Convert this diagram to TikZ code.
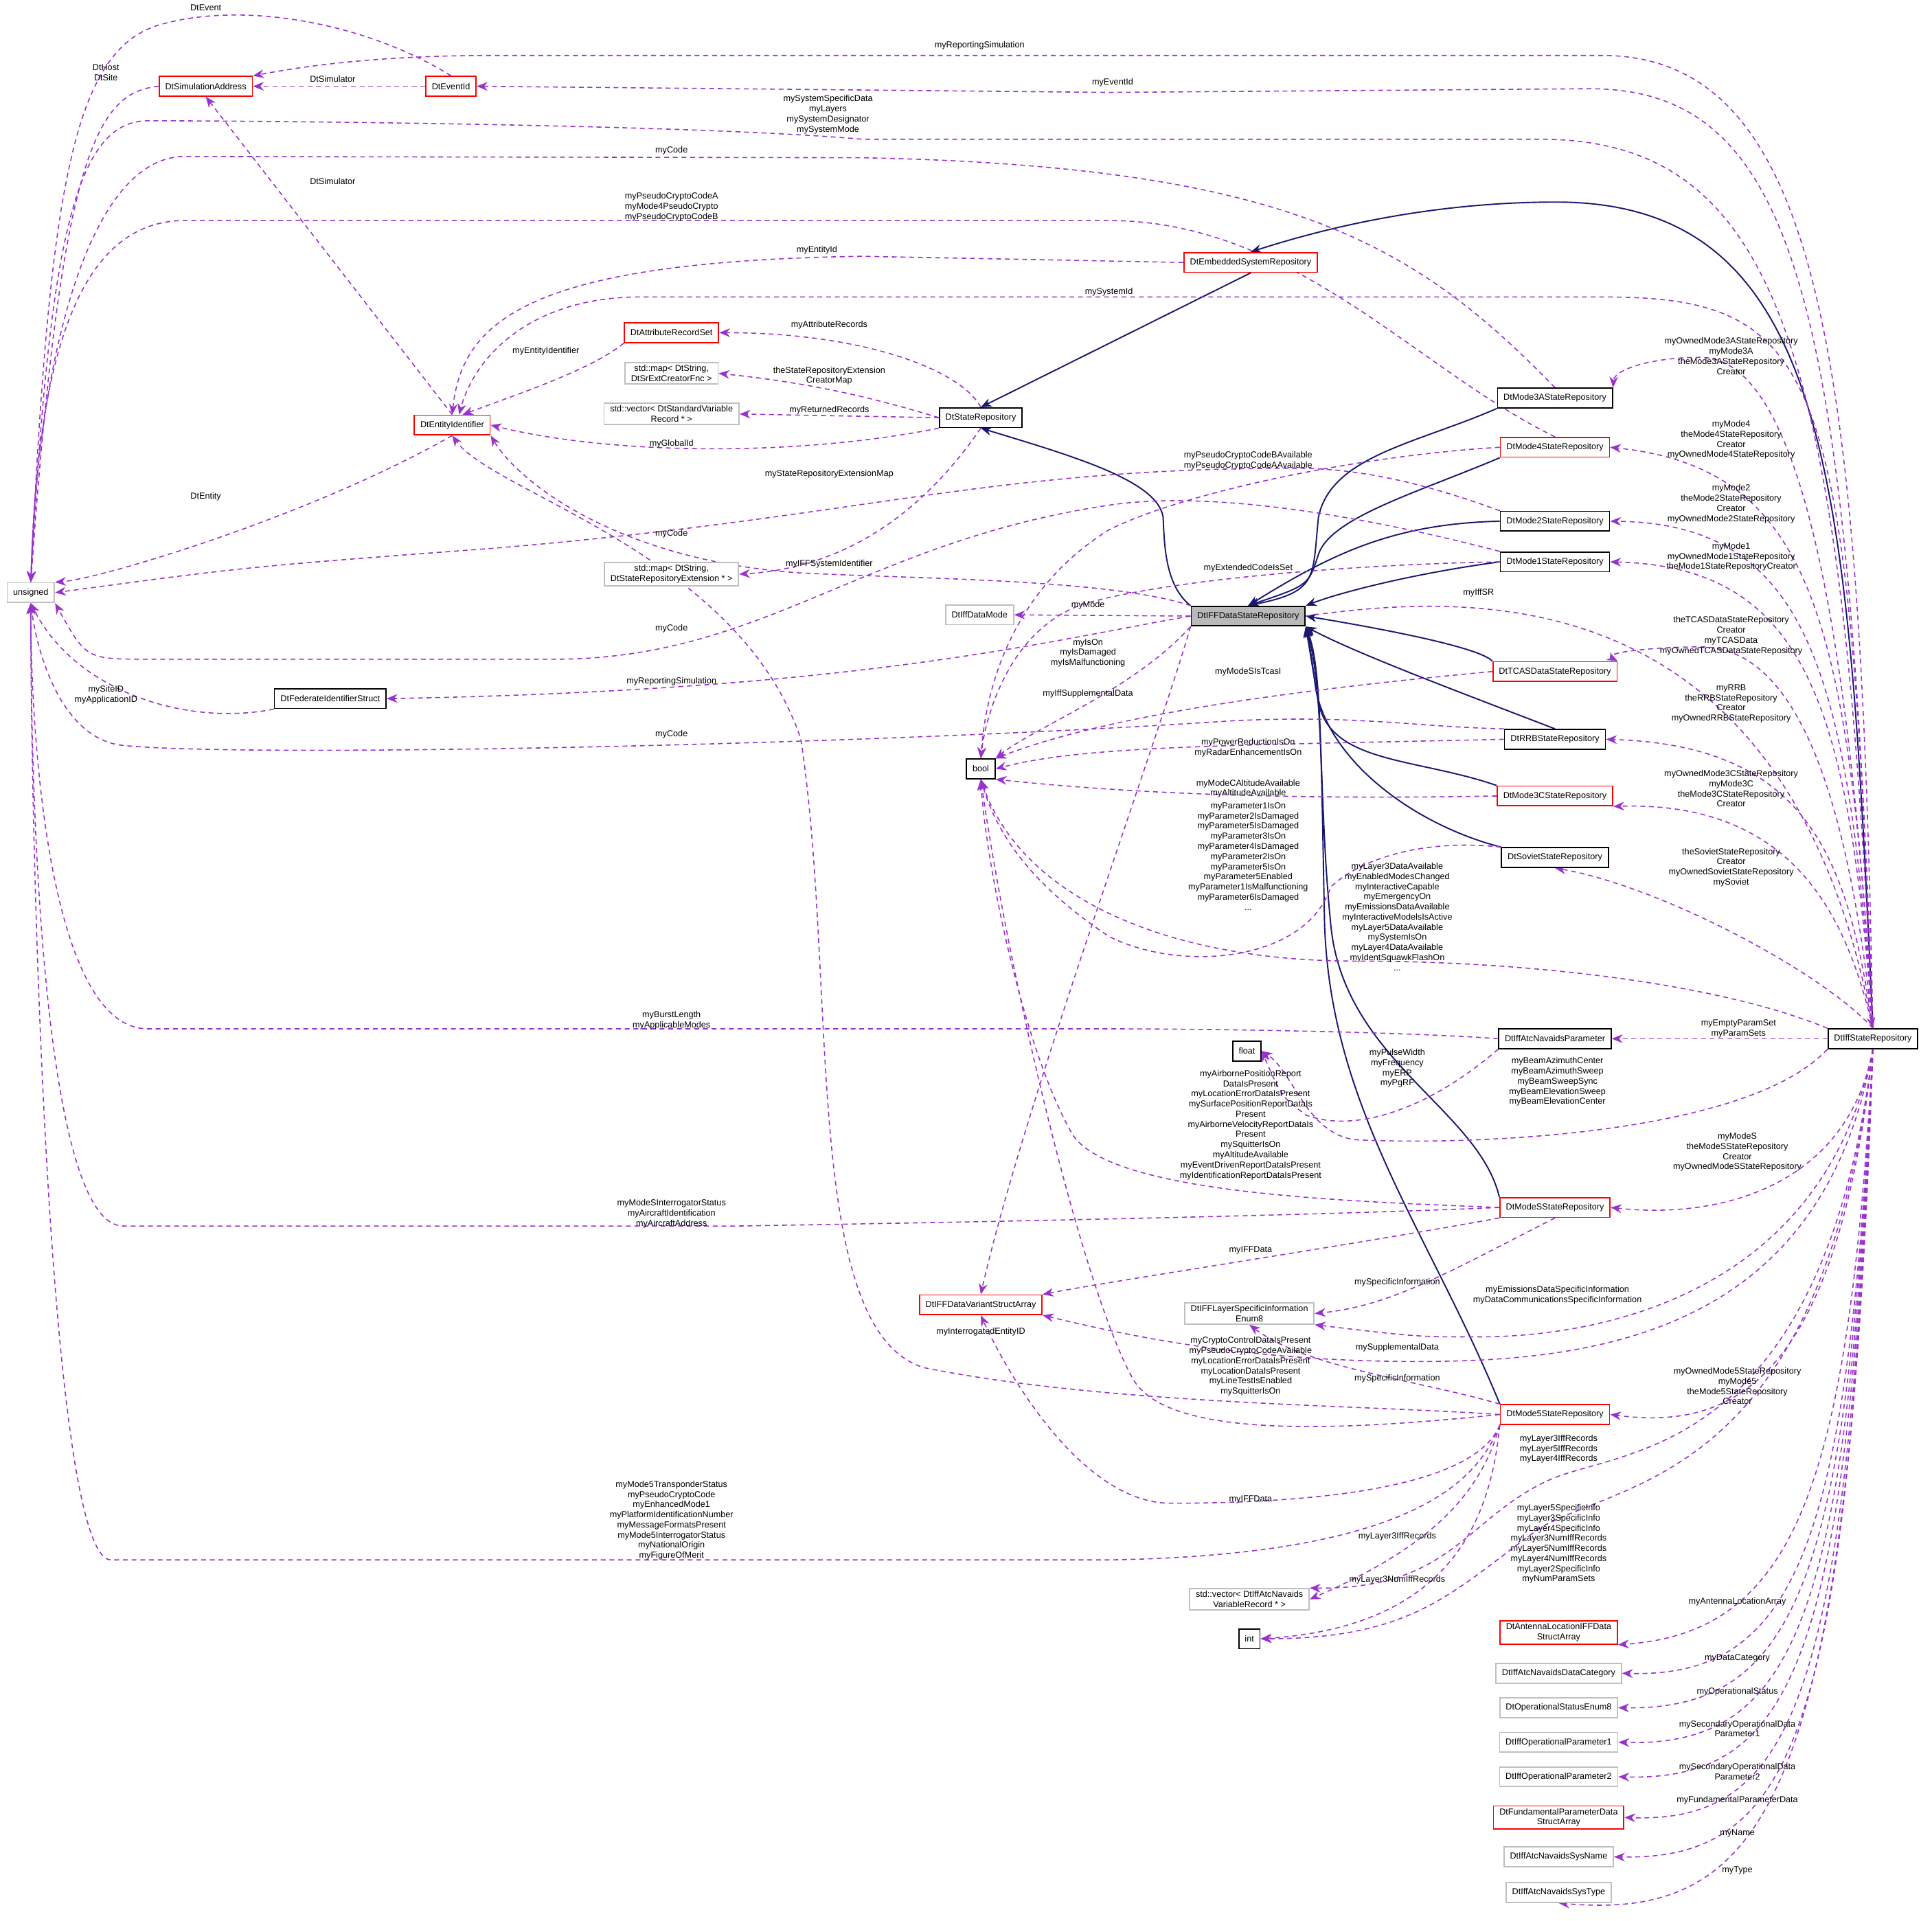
\documentclass[tikz,border=0pt]{standalone}
\usepackage{fontspec}
\setmainfont{Liberation Sans}
\usetikzlibrary{arrows.meta,backgrounds}
\newcommand\ft{\fontsize{3.6}{4.2}\selectfont}
\definecolor{dep}{RGB}{153,50,204}
\definecolor{inh}{RGB}{25,25,112}
\definecolor{rb}{RGB}{255,0,0}
\definecolor{gb}{RGB}{191,191,191}
\begin{document}
\begin{tikzpicture}[x=0.01794cm,y=-0.01794cm,
  box/.style={draw,line width=0.5pt,font=\ft,minimum height=0.287cm,inner xsep=2.5pt,inner ysep=1pt,align=center,fill=white},
  bb/.style={box,draw=black},
  rbx/.style={box,draw=rb},
  gbx/.style={box,draw=gb},
  lbl/.style={font=\ft,align=center,inner sep=0pt},
  d/.style={draw=dep,line width=0.45pt,dash pattern=on 2pt off 1.6pt,-{Stealth[length=4.5pt,width=3.6pt,fill=dep]}},
  h/.style={draw=inh,line width=0.55pt,-{Stealth[length=4.5pt,width=3.6pt,fill=inh]}}]
\useasboundingbox (0,0) rectangle (1568,1559);
% nodes
\node[gbx] (uns) at (25,481) {unsigned};
\node[rbx] (simaddr) at (167,70) {DtSimulationAddress};
\node[rbx] (eventid) at (366,70) {DtEventId};
\node[rbx] (embedded) at (1015,213) {DtEmbeddedSystemRepository};
\node[rbx] (attr) at (545,270) {DtAttributeRecordSet};
\node[gbx] (map1) at (545,303) {std::map\textless{} DtString,\\DtSrExtCreatorFnc \textgreater};
\node[gbx] (vec1) at (545,336) {std::vector\textless{} DtStandardVariable\\Record * \textgreater};
\node[rbx] (entid) at (367,345) {DtEntityIdentifier};
\node[bb] (staterep) at (796,339) {DtStateRepository};
\node[gbx] (map2) at (545,466) {std::map\textless{} DtString,\\DtStateRepositoryExtension * \textgreater};
\node[gbx] (iffmode) at (795,499) {DtIffDataMode};
\node[box,fill=gray!55] (iffdata) at (1013,500) {DtIFFDataStateRepository};
\node[bb] (m3a) at (1262,323) {DtMode3AStateRepository};
\node[rbx] (m4) at (1262,363) {DtMode4StateRepository};
\node[bb] (m2) at (1262,423) {DtMode2StateRepository};
\node[bb] (m1) at (1262,456) {DtMode1StateRepository};
\node[rbx] (tcas) at (1262,545) {DtTCASDataStateRepository};
\node[bb] (rrb) at (1262,600) {DtRRBStateRepository};
\node[rbx] (m3c) at (1262,646) {DtMode3CStateRepository};
\node[bb] (soviet) at (1262,696) {DtSovietStateRepository};
\node[bb] (navpar) at (1262,843) {DtIffAtcNavaidsParameter};
\node[rbx] (modes) at (1262,980) {DtModeSStateRepository};
\node[rbx] (mode5) at (1262,1148) {DtMode5StateRepository};
\node[bb] (iffsr) at (1520,843) {DtIffStateRepository};
\node[bb] (fed) at (268,567) {DtFederateIdentifierStruct};
\node[bb] (bool) at (796,624) {bool};
\node[bb] (float) at (1012,853) {float};
\node[rbx] (variant) at (796,1059) {DtIFFDataVariantStructArray};
\node[gbx] (layer) at (1014,1066) {DtIFFLayerSpecificInformation\\Enum8};
\node[gbx] (vec2) at (1014,1298) {std::vector\textless{} DtIffAtcNavaids\\VariableRecord * \textgreater};
\node[bb] (int) at (1014,1330) {int};
\node[rbx] (antenna) at (1265,1325) {DtAntennaLocationIFFData\\StructArray};
\node[gbx] (datacat) at (1265,1358) {DtIffAtcNavaidsDataCategory};
\node[gbx] (opstat) at (1265,1386) {DtOperationalStatusEnum8};
\node[gbx] (op1) at (1265,1414) {DtIffOperationalParameter1};
\node[gbx] (op2) at (1265,1442) {DtIffOperationalParameter2};
\node[rbx] (fund) at (1265,1475) {DtFundamentalParameterData\\StructArray};
\node[gbx] (sysname) at (1265,1507) {DtIffAtcNavaidsSysName};
\node[gbx] (systype) at (1265,1536) {DtIffAtcNavaidsSysType};
\begin{scope}[on background layer]
% inheritance
\draw[h] (iffsr.north) .. controls (1500,400) and (1490,164) .. (1263,164) .. controls (1150,164) and (1060,190) .. (embedded.north);
\draw[h] (embedded.south) -- (staterep.north);
\draw[h] (iffdata.north west) .. controls (945,475) and (945,440) .. (944,420) .. controls (940,390) and (870,370) .. (staterep.south);
\draw[h] (m3a.south west) .. controls (1150,360) and (1080,370) .. (1070,420) .. controls (1065,470) and (1070,480) .. (iffdata.north);
\draw[h] (m4.south west) .. controls (1150,400) and (1080,420) .. (1070,450) .. controls (1062,475) .. (iffdata.north);
\draw[h] (m2.west) .. controls (1130,425) and (1080,450) .. (iffdata.north);
\draw[h] (m1.west) .. controls (1150,465) and (1090,480) .. (iffdata.north east);
\draw[h] (tcas.north west) .. controls (1200,525) and (1120,510) .. (iffdata.east);
\draw[h] (rrb.north) .. controls (1180,560) and (1100,530) .. (iffdata.south east);
\draw[h] (m3c.north west) .. controls (1150,615) and (1080,620) .. (1070,570) .. controls (1065,540) .. (iffdata.south east);
\draw[h] (soviet.north west) .. controls (1150,670) and (1080,620) .. (1068,560) .. controls (1064,530) .. (iffdata.south east);
\draw[h] (modes.north west) .. controls (1200,900) and (1090,860) .. (1080,750) .. controls (1070,650) and (1075,560) .. (iffdata.south east);
\draw[h] (mode5.north west) .. controls (1160,1000) and (1080,900) .. (1075,750) .. controls (1072,600) and (1072,540) .. (iffdata.south east);
% dependencies
\draw[d] (iffsr.north) .. controls (1510,300) and (1480,45) .. (1300,45) -- (400,45) .. controls (300,45) and (240,55) .. (simaddr.north east);
\draw[d] (iffsr.north) .. controls (1500,250) and (1460,72) .. (1290,72) -- (900,75) -- (eventid.east);
\draw[d] (iffsr.north) .. controls (1495,300) and (1450,113) .. (1250,113) -- (700,113) .. controls (550,100) and (170,98) .. (120,98) .. controls (60,98) and (40,200) .. (uns.north);
\draw[d] (m3a.north) .. controls (1150,200) and (1050,135) .. (700,128) -- (150,127) .. controls (70,127) and (30,300) .. (uns.north);
\draw[d] (m4.north) .. controls (1150,300) and (1050,179) .. (900,179) -- (150,179) .. controls (60,179) and (30,300) .. (uns.north);
\draw[d] (embedded.west) -- (700,208) .. controls (430,212) and (375,260) .. (entid.north);
\draw[d] (iffsr.north) .. controls (1500,300) and (1480,241) .. (1300,241) -- (520,241) .. controls (430,241) and (385,290) .. ([xshift=0.1cm]entid.north);
\draw[d] (staterep.north) .. controls (780,300) and (700,270) .. (attr.east);
\draw[d] (attr.south west) .. controls (480,300) and (420,320) .. ([xshift=0.15cm]entid.north);
\draw[d] (staterep.west) .. controls (700,320) and (650,310) .. (map1.east);
\draw[d] (staterep.west) -- (vec1.east);
\draw[d] (staterep.south west) .. controls (650,370) and (500,370) .. (entid.east);
\draw[d] (staterep.south) .. controls (760,400) and (700,460) .. (map2.east);
\draw[d] (entid.south) .. controls (250,420) and (80,470) .. (uns.north east);
\draw[d] (entid.north) -- (simaddr.south);
\draw[d] (eventid.west) -- (simaddr.east);
\draw[d] (eventid.north) .. controls (300,20) and (200,0) .. (130,20) .. controls (60,40) and (40,150) .. (uns.north);
\draw[d] (simaddr.west) .. controls (80,75) and (50,120) .. (uns.north);
\draw[d] (iffdata.north west) .. controls (900,470) and (750,470) .. (650,465) .. controls (500,455) and (420,390) .. (entid.south east);
\draw[d] (m2.north west) .. controls (1150,390) and (1100,380) .. (1050,380) .. controls (800,380) and (700,420) .. (400,445) .. controls (200,460) .. (uns.east);
\draw[d] (m1.north west) .. controls (1150,430) and (1000,395) .. (900,410) .. controls (700,440) and (620,535) .. (450,535) -- (120,535) .. controls (70,535) .. (uns.south east);
\draw[d] (m4.west) .. controls (1100,370) and (960,400) .. (900,430) .. controls (820,480) and (800,560) .. (bool.north);
\draw[d] (m1.west) .. controls (1100,458) and (950,470) .. (880,490) .. controls (820,510) and (800,580) .. (bool.north);
\draw[d] (iffdata.west) -- (iffmode.east);
\draw[d] (iffdata.south west) .. controls (920,560) and (840,590) .. (bool.north east);
\draw[d] (iffdata.west) .. controls (850,520) and (700,560) .. (fed.east);
\draw[d] (iffdata.south west) .. controls (940,600) and (830,900) .. (variant.north);
\draw[d] (iffdata.east) .. controls (1200,480) and (1450,470) .. (iffsr.north);
\draw[d] (tcas.west) .. controls (1050,560) and (900,580) .. (bool.north east);
\draw[d] (fed.south west) .. controls (150,590) and (60,560) .. (uns.south);
\draw[d] (rrb.north west) .. controls (1150,590) and (1100,580) .. (1000,585) .. controls (700,605) and (200,615) .. (100,605) .. controls (50,600) and (30,530) .. (uns.south);
\draw[d] (rrb.west) .. controls (1000,605) and (880,605) .. (bool.east);
\draw[d] (m3c.west) .. controls (1000,650) and (880,640) .. (bool.south east);
\draw[d] (soviet.north west) .. controls (1150,680) and (1100,700) .. (1080,720) .. controls (1060,780) and (960,790) .. (900,760) .. controls (840,720) and (810,680) .. (bool.south);
\draw[d] (iffsr.north west) .. controls (1400,800) and (1250,780) .. (1100,780) .. controls (950,780) and (830,730) .. (bool.south);
\draw[d] (navpar.west) .. controls (1150,838) and (1000,835) .. (900,835) -- (120,835) .. controls (40,835) and (25,600) .. (uns.south);
\draw[d] (iffsr.west) -- (navpar.east);
\draw[d] (navpar.south west) .. controls (1160,900) and (1100,920) .. (1060,905) .. controls (1040,890) .. (float.east);
\draw[d] (iffsr.south west) .. controls (1420,920) and (1200,930) .. (1100,925) .. controls (1060,920) and (1050,870) .. (float.east);
\draw[d] (modes.west) .. controls (1100,975) and (900,970) .. (870,920) .. controls (830,850) and (800,700) .. (bool.south);
\draw[d] (iffsr.south) .. controls (1500,960) and (1400,990) .. (modes.east);
\draw[d] (modes.west) .. controls (1100,985) and (900,990) .. (600,995) -- (100,995) .. controls (40,995) and (25,700) .. (uns.south);
\draw[d] (modes.south west) .. controls (1100,1010) and (900,1040) .. (variant.north east);
\draw[d] (modes.south) .. controls (1180,1030) and (1130,1060) .. (layer.east);
\draw[d] (iffsr.south) .. controls (1480,1050) and (1300,1085) .. (1200,1085) .. controls (1150,1085) .. (layer.south east);
\draw[d] (mode5.west) .. controls (1100,1140) and (900,1140) .. (750,1110) .. controls (650,1080) and (680,800) .. (650,600) .. controls (600,450) and (400,400) .. (entid.south);
\draw[d] (mode5.south west) .. controls (1200,1200) and (1100,1220) .. (950,1220) .. controls (880,1220) and (820,1120) .. (variant.south);
\draw[d] (mode5.west) .. controls (1100,1160) and (950,1170) .. (920,1120) .. controls (880,1050) and (820,800) .. (bool.south);
\draw[d] (mode5.north west) .. controls (1150,1120) and (1060,1110) .. (layer.south);
\draw[d] (iffsr.south) .. controls (1480,1080) and (1300,1105) .. (1150,1105) .. controls (1000,1105) and (900,1080) .. (variant.south east);
\draw[d] (iffsr.south) .. controls (1490,1130) and (1400,1160) .. (mode5.east);
\draw[d] (mode5.south west) .. controls (1200,1200) and (1150,1262) .. (900,1266) -- (90,1266) .. controls (40,1266) and (25,700) .. (uns.south);
\draw[d] (iffsr.south) .. controls (1480,1180) and (1320,1175) .. (1260,1200) .. controls (1190,1230) and (1180,1290) .. (vec2.north east);
\draw[d] (iffsr.south) .. controls (1480,1200) and (1320,1200) .. (1250,1240) .. controls (1180,1290) and (1150,1330) .. (int.east);
\draw[d] (mode5.south west) .. controls (1200,1220) and (1150,1260) .. (vec2.east);
\draw[d] (mode5.south west) .. controls (1210,1230) and (1180,1320) .. (int.east);
\draw[d] (iffsr.south) .. controls (1500,1200) and (1460,1325) .. (antenna.south east);
\draw[d] (iffsr.south) .. controls (1500,1250) and (1460,1362) .. (datacat.east);
\draw[d] (iffsr.south) .. controls (1500,1280) and (1460,1388) .. (opstat.east);
\draw[d] (iffsr.south) .. controls (1500,1310) and (1460,1418) .. (op1.east);
\draw[d] (iffsr.south) .. controls (1500,1340) and (1460,1446) .. (op2.east);
\draw[d] (iffsr.south) .. controls (1500,1370) and (1460,1480) .. (fund.east);
\draw[d] (iffsr.south) .. controls (1500,1400) and (1460,1510) .. (sysname.east);
\draw[d] (iffsr.south) .. controls (1500,1450) and (1440,1560) .. (systype.south);
\draw[d] (iffsr.north) .. controls (1500,500) and (1460,290) .. (1380,290) .. controls (1340,290) and (1310,300) .. (m3a.north east);
\draw[d] (iffsr.north) .. controls (1500,500) and (1470,380) .. (m4.east);
\draw[d] (iffsr.north) .. controls (1500,550) and (1470,425) .. (m2.east);
\draw[d] (iffsr.north) .. controls (1500,580) and (1470,460) .. (m1.east);
\draw[d] (iffsr.north) .. controls (1500,650) and (1460,525) .. (1380,525) .. controls (1340,525) and (1300,530) .. (tcas.north east);
\draw[d] (iffsr.north) .. controls (1500,700) and (1470,605) .. (rrb.east);
\draw[d] (iffsr.north) .. controls (1500,750) and (1460,650) .. (m3c.south east);
\draw[d] (iffsr.north) .. controls (1480,790) and (1350,720) .. (soviet.south);
\end{scope}
% labels
\node[lbl] (l1) at (795,37) {myReportingSimulation};
\node[lbl] (l2) at (903,67) {myEventId};
\node[lbl] (l3) at (672,93) {mySystemSpecificData\\myLayers\\mySystemDesignator\\mySystemMode};
\node[lbl] (l4) at (545,122) {myCode};
\node[lbl] (l5) at (545,168) {myPseudoCryptoCodeA\\myMode4PseudoCrypto\\myPseudoCryptoCodeB};
\node[lbl] (l6) at (663,203) {myEntityId};
\node[lbl] (l7) at (900,237) {mySystemId};
\node[lbl] (l8) at (673,264) {myAttributeRecords};
\node[lbl] (l9) at (443,285) {myEntityIdentifier};
\node[lbl] (l10) at (673,305) {theStateRepositoryExtension\\CreatorMap};
\node[lbl] (l11) at (673,333) {myReturnedRecords};
\node[lbl] (l12) at (545,360) {myGlobalId};
\node[lbl] (l13) at (673,385) {myStateRepositoryExtensionMap};
\node[lbl] (l14) at (167,403) {DtEntity};
\node[lbl] (l15) at (270,147) {DtSimulator};
\node[lbl] (l16) at (270,64) {DtSimulator};
\node[lbl] (l17) at (167,6) {DtEvent};
\node[lbl] (l18) at (86,59) {DtHost\\DtSite};
\node[lbl] (l19) at (673,458) {myIFFSystemIdentifier};
\node[lbl] (l20) at (545,433) {myCode};
\node[lbl] (l21) at (545,510) {myCode};
\node[lbl] (l22) at (1013,374) {myPseudoCryptoCodeBAvailable\\myPseudoCryptoCodeAAvailable};
\node[lbl] (l23) at (1013,461) {myExtendedCodeIsSet};
\node[lbl] (l24) at (883,491) {myMode};
\node[lbl] (l25) at (883,530) {myIsOn\\myIsDamaged\\myIsMalfunctioning};
\node[lbl] (l26) at (545,553) {myReportingSimulation};
\node[lbl] (l27) at (883,563) {myIffSupplementalData};
\node[lbl] (l28) at (1200,481) {myIffSR};
\node[lbl] (l29) at (1013,545) {myModeSIsTcasI};
\node[lbl] (l30) at (86,564) {mySiteID\\myApplicationID};
\node[lbl] (l31) at (545,596) {myCode};
\node[lbl] (l32) at (1013,607) {myPowerReductionIsOn\\myRadarEnhancementIsOn};
\node[lbl] (l33) at (1013,640) {myModeCAltitudeAvailable\\myAltitudeAvailable};
\node[lbl] (l34) at (1013,695) {myParameter1IsOn\\myParameter2IsDamaged\\myParameter5IsDamaged\\myParameter3IsOn\\myParameter4IsDamaged\\myParameter2IsOn\\myParameter5IsOn\\myParameter5Enabled\\myParameter1IsMalfunctioning\\myParameter6IsDamaged\\...};
\node[lbl] (l35) at (1134,744) {myLayer3DataAvailable\\myEnabledModesChanged\\myInteractiveCapable\\myEmergencyOn\\myEmissionsDataAvailable\\myInteractiveModelsIsActive\\myLayer5DataAvailable\\mySystemIsOn\\myLayer4DataAvailable\\myIdentSquawkFlashOn\\...};
\node[lbl] (l36) at (545,828) {myBurstLength\\myApplicableModes};
\node[lbl] (l37) at (1411,835) {myEmptyParamSet\\myParamSets};
\node[lbl] (l38) at (1134,867) {myPulseWidth\\myFrequency\\myERP\\myPgRF};
\node[lbl] (l39) at (1264,878) {myBeamAzimuthCenter\\myBeamAzimuthSweep\\myBeamSweepSync\\myBeamElevationSweep\\myBeamElevationCenter};
\node[lbl] (l40) at (1015,913) {myAirbornePositionReport\\DataIsPresent\\myLocationErrorDataIsPresent\\mySurfacePositionReportDataIs\\Present\\myAirborneVelocityReportDataIs\\Present\\mySquitterIsOn\\myAltitudeAvailable\\myEventDrivenReportDataIsPresent\\myIdentificationReportDataIsPresent};
\node[lbl] (l41) at (1410,935) {myModeS\\theModeSStateRepository\\Creator\\myOwnedModeSStateRepository};
\node[lbl] (l42) at (545,985) {myModeSInterrogatorStatus\\myAircraftIdentification\\myAircraftAddress};
\node[lbl] (l43) at (1015,1015) {myIFFData};
\node[lbl] (l44) at (1134,1041) {mySpecificInformation};
\node[lbl] (l45) at (1264,1051) {myEmissionsDataSpecificInformation\\myDataCommunicationsSpecificInformation};
\node[lbl] (l46) at (796,1081) {myInterrogatedEntityID};
\node[lbl] (l47) at (1015,1109) {myCryptoControlDataIsPresent\\myPseudoCryptoCodeAvailable\\myLocationErrorDataIsPresent\\myLocationDataIsPresent\\myLineTestIsEnabled\\mySquitterIsOn};
\node[lbl] (l48) at (1134,1094) {mySupplementalData};
\node[lbl] (l49) at (1134,1119) {mySpecificInformation};
\node[lbl] (l50) at (1410,1125) {myOwnedMode5StateRepository\\myMode5\\theMode5StateRepository\\Creator};
\node[lbl] (l52) at (1015,1217) {myIFFData};
\node[lbl] (l53) at (1265,1176) {myLayer3IffRecords\\myLayer5IffRecords\\myLayer4IffRecords};
\node[lbl] (l53b) at (1265,1253) {myLayer5SpecificInfo\\myLayer3SpecificInfo\\myLayer4SpecificInfo\\myLayer3NumIffRecords\\myLayer5NumIffRecords\\myLayer4NumIffRecords\\myLayer2SpecificInfo\\myNumParamSets};
\node[lbl] (l54) at (545,1234) {myMode5TransponderStatus\\myPseudoCryptoCode\\myEnhancedMode1\\myPlatformIdentificationNumber\\myMessageFormatsPresent\\myMode5InterrogatorStatus\\myNationalOrigin\\myFigureOfMerit};
\node[lbl] (l55) at (1134,1247) {myLayer3IffRecords};
\node[lbl] (l55b) at (1134,1282) {myLayer3NumIffRecords};
\node[lbl] (l56) at (1410,1300) {myAntennaLocationArray};
\node[lbl] (l57) at (1410,1346) {myDataCategory};
\node[lbl] (l58) at (1410,1373) {myOperationalStatus};
\node[lbl] (l59) at (1410,1403) {mySecondaryOperationalData\\Parameter1};
\node[lbl] (l60) at (1410,1438) {mySecondaryOperationalData\\Parameter2};
\node[lbl] (l61) at (1410,1461) {myFundamentalParameterData};
\node[lbl] (l62) at (1410,1488) {myName};
\node[lbl] (l63) at (1410,1518) {myType};
\node[lbl] (l64) at (1405,289) {myOwnedMode3AStateRepository\\myMode3A\\theMode3AStateRepository\\Creator};
\node[lbl] (l65) at (1405,357) {myMode4\\theMode4StateRepository\\Creator\\myOwnedMode4StateRepository};
\node[lbl] (l66) at (1405,409) {myMode2\\theMode2StateRepository\\Creator\\myOwnedMode2StateRepository};
\node[lbl] (l67) at (1405,452) {myMode1\\myOwnedMode1StateRepository\\theMode1StateRepositoryCreator};
\node[lbl] (l68) at (1405,516) {theTCASDataStateRepository\\Creator\\myTCASData\\myOwnedTCASDataStateRepository};
\node[lbl] (l69) at (1405,571) {myRRB\\theRRBStateRepository\\Creator\\myOwnedRRBStateRepository};
\node[lbl] (l70) at (1405,640) {myOwnedMode3CStateRepository\\myMode3C\\theMode3CStateRepository\\Creator};
\node[lbl] (l71) at (1405,704) {theSovietStateRepository\\Creator\\myOwnedSovietStateRepository\\mySoviet};
\end{tikzpicture}
\end{document}
